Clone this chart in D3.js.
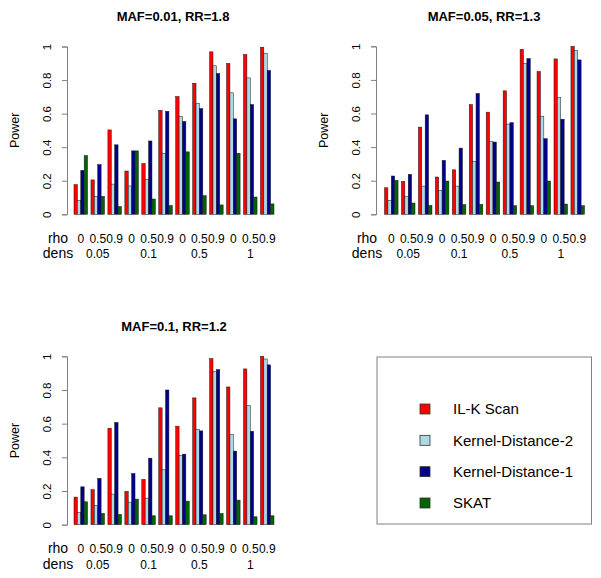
<!DOCTYPE html>
<html><head><meta charset="utf-8">
<script src="https://cdn.jsdelivr.net/npm/d3@7"></script>
<style>body{margin:0;background:#fff}svg{display:block;font-family:"Liberation Sans",Arial,sans-serif}</style>
</head><body><svg id="c" width="601" height="578"></svg>
<script>
// ---- data ----
const rhoLabels = ["0", "0.5", "0.9"];
const densLabels = ["0.05", "0.1", "0.5", "1"];
const methods = ["IL-K Scan", "Kernel-Distance-2", "Kernel-Distance-1", "SKAT"];
const titles = ["MAF=0.01, RR=1.8", "MAF=0.05, RR=1.3", "MAF=0.1, RR=1.2"];
const yTicks = [0, 0.2, 0.4, 0.6, 0.8, 1];

// panel 1 (MAF=0.01), 12 groups: dens 0.05 (rho 0,0.5,0.9), dens 0.1, dens 0.5, dens 1
const p1ILK  = [0.177, 0.205, 0.503, 0.258, 0.302, 0.620, 0.702, 0.781, 0.968, 0.899, 0.952, 0.996];
const p1KD2  = [0.083, 0.107, 0.180, 0.169, 0.209, 0.364, 0.582, 0.662, 0.885, 0.724, 0.813, 0.960];
const p1KD1  = [0.262, 0.296, 0.414, 0.378, 0.437, 0.614, 0.553, 0.630, 0.839, 0.569, 0.654, 0.857];
const p1SKAT = [0.350, 0.107, 0.046, 0.378, 0.091, 0.052, 0.372, 0.111, 0.056, 0.364, 0.103, 0.062];
// panel 2 (MAF=0.05)
const p2ILK  = [0.158, 0.196, 0.519, 0.222, 0.265, 0.653, 0.608, 0.735, 0.982, 0.850, 0.925, 1.000];
const p2KD2  = [0.083, 0.105, 0.168, 0.143, 0.168, 0.313, 0.432, 0.537, 0.897, 0.584, 0.695, 0.976];
const p2KD1  = [0.228, 0.238, 0.592, 0.321, 0.394, 0.719, 0.430, 0.545, 0.927, 0.450, 0.566, 0.919];
const p2SKAT = [0.202, 0.067, 0.053, 0.198, 0.057, 0.059, 0.192, 0.051, 0.051, 0.198, 0.061, 0.051];
// panel 3 (MAF=0.1)
const p3ILK  = [0.164, 0.208, 0.573, 0.198, 0.269, 0.694, 0.585, 0.753, 0.986, 0.818, 0.925, 1.000];
const p3KD2  = [0.073, 0.115, 0.182, 0.134, 0.158, 0.326, 0.411, 0.567, 0.909, 0.536, 0.708, 0.984];
const p3KD1  = [0.225, 0.275, 0.607, 0.304, 0.395, 0.800, 0.419, 0.557, 0.921, 0.437, 0.555, 0.949];
const p3SKAT = [0.136, 0.067, 0.061, 0.152, 0.053, 0.053, 0.140, 0.059, 0.067, 0.146, 0.047, 0.053];

// ---- layout / style ----
const colors = ["#ff0000", "#add8e6", "#00008b", "#006400"];
const panels = [
  {title: titles[0], series: [p1ILK, p1KD2, p1KD1, p1SKAT], ax: 67, x0: 74, x1: 274, yb: 214.3, yt: 46.5, ty: 20.5, tx: 173},
  {title: titles[1], series: [p2ILK, p2KD2, p2KD1, p2SKAT], ax: 376, x0: 384.5, x1: 584.5, yb: 214.3, yt: 46.3, ty: 20.5, tx: 484},
  {title: titles[2], series: [p3ILK, p3KD2, p3KD1, p3SKAT], ax: 67, x0: 74, x1: 274, yb: 524.7, yt: 356.3, ty: 330.5, tx: 174}
];

const svg = d3.select("#c");
const groups = d3.range(densLabels.length * rhoLabels.length);

panels.forEach(p => {
  const g = svg.append("g");
  const x = d3.scaleBand().domain(groups).range([p.x0, p.x1]).paddingInner(0.2).paddingOuter(0);
  const xs = d3.scaleBand().domain(d3.range(methods.length)).range([0, x.bandwidth()]);
  const y = d3.scaleLinear().domain([0, 1]).range([p.yb, p.yt]);

  // bars
  methods.forEach((m, mi) => {
    g.append("g").selectAll("rect").data(p.series[mi]).join("rect")
      .attr("x", (d, i) => x(i) + xs(mi))
      .attr("width", xs.bandwidth())
      .attr("y", d => y(d))
      .attr("height", d => y(0) - y(d))
      .attr("fill", colors[mi])
      .attr("stroke", "#1a1a1a").attr("stroke-width", 0.5);
  });

  // y axis
  const ax = g.append("g").attr("transform", `translate(${p.ax},0)`)
    .call(d3.axisLeft(y).tickValues(yTicks).tickFormat(d3.format("~g")).tickSize(5).tickSizeOuter(5));
  ax.select(".domain").attr("stroke", "#808080");
  ax.selectAll(".tick line").attr("stroke", "#808080");
  ax.selectAll(".tick text")
    .attr("x", 0).attr("y", 0).attr("dy", "0.36em")
    .attr("transform", "translate(-20,0) rotate(-90)")
    .attr("text-anchor", "middle")
    .attr("font-size", 11.5).attr("fill", "#000")
    .style("font-family", "Liberation Sans, Arial, sans-serif");

  // y label
  g.append("text").attr("transform", `translate(${p.ax - 53},${(p.yb + p.yt) / 2}) rotate(-90)`)
    .attr("text-anchor", "middle").attr("dy", "0.36em").attr("font-size", 12.5).text("Power");

  // title
  g.append("text").attr("x", p.tx).attr("y", p.ty).attr("text-anchor", "middle")
    .attr("font-size", 13).attr("font-weight", "bold").text(p.title);

  // x labels
  const rowRho = p.yb + 28.2, rowDens = p.yb + 44;
  g.append("text").attr("x", p.ax - 9).attr("y", rowRho).attr("text-anchor", "middle").attr("font-size", 14).text("rho");
  g.append("text").attr("x", p.ax - 9).attr("y", rowDens).attr("text-anchor", "middle").attr("font-size", 14).text("dens");
  g.append("g").selectAll("text").data(groups).join("text")
    .attr("x", i => x(i) + x.bandwidth() / 2).attr("y", rowRho)
    .attr("text-anchor", "middle").attr("font-size", 12)
    .text(i => rhoLabels[i % rhoLabels.length]);
  g.append("g").selectAll("text").data(densLabels).join("text")
    .attr("x", (d, k) => x(k * rhoLabels.length + 1) + x.bandwidth() / 2).attr("y", rowDens)
    .attr("text-anchor", "middle").attr("font-size", 12)
    .text(d => d);
});

// legend
const lg = svg.append("g");
lg.append("rect").attr("x", 377).attr("y", 357).attr("width", 214.5).attr("height", 167)
  .attr("fill", "none").attr("stroke", "#808080").attr("stroke-width", 1);
const ly = d3.scalePoint().domain(methods).range([409, 503]);
lg.selectAll("rect.key").data(methods).join("rect").attr("class", "key")
  .attr("x", 420).attr("y", d => ly(d) - 5).attr("width", 10).attr("height", 10)
  .attr("fill", (d, i) => colors[i]).attr("stroke", "#333").attr("stroke-width", 0.8);
lg.selectAll("text").data(methods).join("text")
  .attr("x", 453).attr("y", d => ly(d)).attr("dy", "0.36em")
  .attr("font-size", 15).text(d => d);
</script></body></html>
